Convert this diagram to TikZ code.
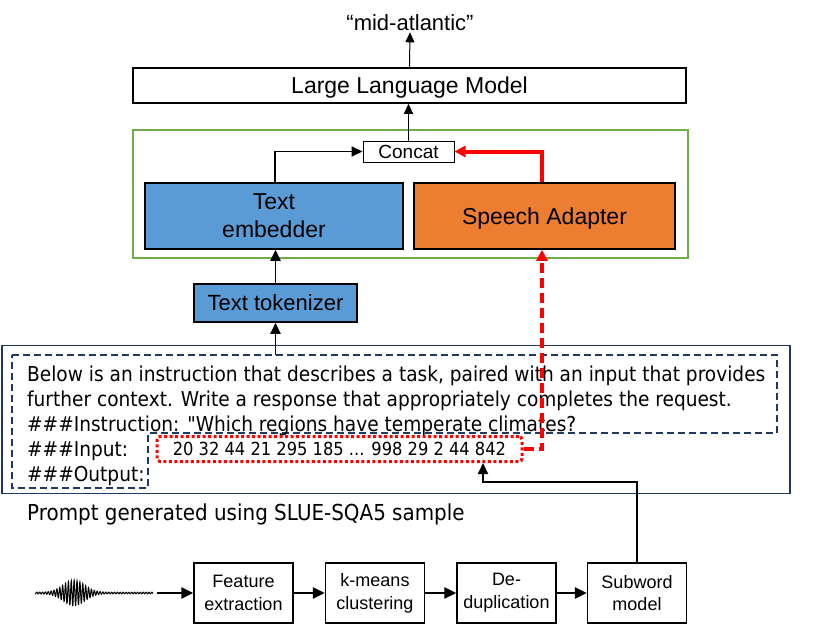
\documentclass[tikz,border=0pt]{standalone}
\usepackage{fontspec}
\setmainfont{Liberation Sans}
\newfontfamily\promptfont[FakeStretch=0.905]{DejaVu Sans}
\usetikzlibrary{arrows.meta}
\definecolor{cblue}{HTML}{5B9BD5}
\definecolor{corange}{HTML}{ED7D31}
\definecolor{cgreen}{HTML}{70AD47}
\definecolor{cnavy}{HTML}{203864}
\definecolor{cred}{HTML}{FF0000}
\tikzset{
  box/.style={draw, line width=1.5pt, align=center, inner sep=0pt},
  arr/.style={line width=1.8pt, -{Triangle[length=11pt,width=10pt]}},
  barr/.style={line width=2.5pt, -{Triangle[length=12pt,width=11pt]}},
  thinarr/.style={line width=1pt, -{Triangle[length=10pt,width=9pt]}},
  redarr/.style={cred, line width=4pt, -{Triangle[length=11pt,width=11pt]}},
  reddash/.style={cred, line width=4pt, dash pattern=on 10pt off 5pt, -{Triangle[length=11pt,width=11pt]}},
  ptxt/.style={font=\promptfont\fontsize{20.5}{24}\selectfont, inner sep=0pt},
  btxt/.style={font=\fontsize{18}{22.7}\selectfont},
}
\begin{document}
\begin{tikzpicture}[x=1pt,y=-1pt]
\useasboundingbox[fill=white] (0,0) rectangle (830,629);

% top
\node[box, minimum width=553pt, minimum height=35pt, text depth=0pt, font=\fontsize{23}{27}\selectfont] (llm) at (409.5,85.5) {Large Language Model};
\node[font=\fontsize{22}{26}\selectfont, inner sep=1pt] (out) at (410,23) {“mid-atlantic”};
\draw[thinarr] (llm.north) -- (out.south);

% green group
\node[draw=cgreen, line width=1.5pt, minimum width=555pt, minimum height=128pt, inner sep=0pt] (grp) at (410.5,194) {};
\node[draw, line width=1pt, minimum width=91pt, minimum height=21pt, inner sep=0pt, font=\fontsize{19}{21}\selectfont] (concat) at (408.5,151.5) {Concat};
\draw[thinarr] (concat.north) -- (concat.north |- llm.south);
\node[box, fill=cblue, minimum width=258pt, minimum height=66pt, text depth=0pt, font=\fontsize{23}{28}\selectfont] (emb) at (274,216) {Text\\embedder};
\node[box, fill=corange, minimum width=261pt, minimum height=66pt, text depth=0pt, font=\fontsize{23}{28}\selectfont] (sp) at (544.5,216) {Speech Adapter};
\draw[arr] ([xshift=1pt]emb.north) |- (concat.west);
\draw[redarr] ([xshift=-2.5pt]sp.north) |- (concat.east);

% tokenizer
\node[box, fill=cblue, minimum width=163pt, minimum height=38pt, font=\fontsize{22}{26}\selectfont] (tok) at (275.5,303) {Text tokenizer};
\draw[arr] (tok.north) -- (tok.north |- emb.south);

% prompt box
\node[draw=cnavy, line width=1.8pt, minimum width=788pt, minimum height=148pt, inner sep=0pt] (outer) at (396,419.5) {};
\draw[cnavy, line width=1.5pt, dash pattern=on 7pt off 4pt] (12,355) -- (777,355) -- (777,433) -- (148,433) -- (148,488) -- (12,488) -- cycle;
\coordinate (ptop) at (275.5,355);
\draw[arr] (ptop) -- (tok.south);

\node[ptxt, anchor=base west] (l1) at (27,381) {Below is an instruction that describes a task, paired with an input that provides};
\node[ptxt, anchor=base west] (l2) at (27,406) {further context. Write a response that appropriately completes the request.};
\node[ptxt, anchor=base west] (l3) at (27,431) {\#\#\#Instruction: "Which regions have temperate climates?};
\node[ptxt, anchor=base west] (l4) at (27,456) {\#\#\#Input:};
\node[ptxt, anchor=base west] (l5) at (27,481) {\#\#\#Output:};
\node[ptxt, anchor=base west, font=\promptfont\fontsize{22}{26}\selectfont] (cap) at (27,520) {Prompt generated using SLUE-SQA5 sample};

\node[draw=cred, line width=3pt, dash pattern=on 3pt off 2.5pt, rounded corners=3pt, minimum width=365pt, minimum height=25pt, inner sep=0pt, font=\promptfont\fontsize{18}{21}\selectfont] (ids) at (339.5,449) {20 32 44 21 295 185 ... 998 29 2 44 842};
\draw[reddash] (ids.east) -| ([xshift=-2.5pt]sp.south);

% bottom pipeline
\node[box, btxt, minimum width=99pt, minimum height=60pt] (fe) at (243.5,593) {Feature\\extraction};
\node[box, btxt, minimum width=99pt, minimum height=60pt] (km) at (375,593) {k-means\\clustering};
\node[box, btxt, minimum width=99pt, minimum height=60pt] (dd) at (506.5,593) {De-\\duplication};
\node[box, btxt, minimum width=99pt, minimum height=60pt] (sw) at (637,593) {Subword\\model};
\draw[barr] (fe.east) -- (km.west);
\draw[barr] (km.east) -- (dd.west);
\draw[barr] (dd.east) -- (sw.west);
\coordinate (k) at (483,482);
\draw[arr] (sw.north) |- (k) -- (k |- ids.south);

% waveform
\draw[line width=1pt] plot[domain=35:153, samples=700] (\x,{593 + (12*exp(-min(((\x-74)/15)^2,20)) + 0.8)*sin(mod(\x,72)*125)});
\coordinate (w) at (157,593);
\draw[barr] (w) -- (w -| fe.west);
\end{tikzpicture}
\end{document}
